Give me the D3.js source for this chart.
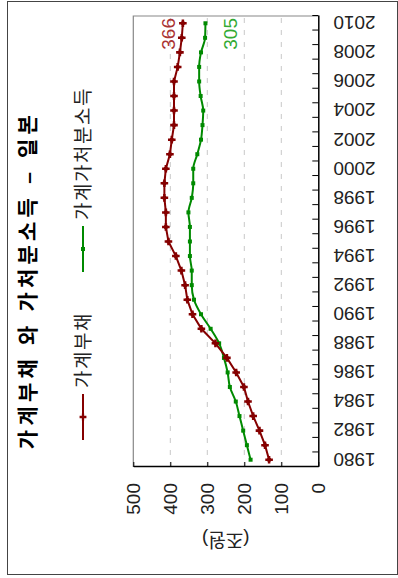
<!DOCTYPE html>
<html>
<head>
<meta charset="utf-8">
<script src="https://cdn.jsdelivr.net/npm/d3@7"></script>
<style>
  body { margin: 0; background: #fff; }
  text { font-family: "Liberation Sans", "Noto Sans CJK KR", sans-serif; }
</style>
</head>
<body>
<script>
// 데이터
const years = d3.range(1980, 2011);
const debt = [133, 144, 159, 176, 190, 201, 222, 247, 278, 316, 340, 354, 360, 370, 385, 405,
              412, 412, 416, 416, 412, 401, 396, 390, 390, 390, 390, 380, 374, 369, 366];
const income = [183, 193, 203, 213, 223, 239, 245, 255, 268, 291, 317, 336, 342, 342, 347, 347,
                347, 351, 342, 338, 338, 327, 317, 313, 311, 318, 322, 322, 317, 306, 305];
const seriesNames = ["가계부채", "가계가처분소득"];
const valueTicks = [0, 100, 200, 300, 400, 500];
const yearLabels = d3.range(1980, 2011, 2);

// 원래 차트 크기 (회전 전)
const W = 578, H = 398;

const svg = d3.select("body").append("svg")
    .attr("width", 398)
    .attr("height", 578);

// 전체를 반시계 방향으로 90도 회전
const g = svg.append("g")
    .attr("transform", `translate(0,${W}) rotate(-90)`);

g.append("rect")
    .attr("x", 3.5).attr("y", 7.5)
    .attr("width", 573).attr("height", 390)
    .attr("fill", "none")
    .attr("stroke", "#444")
    .attr("stroke-width", 1);

const x = d3.scaleLinear().domain([1979.5, 2010.5]).range([111, 562]);
const y = d3.scaleLinear().domain([0, 500]).range([318.3, 133.3]);

// 격자선
g.selectAll(".grid")
    .data([100, 200, 300, 400])
    .enter().append("line")
    .attr("x1", 111).attr("x2", 562)
    .attr("y1", d => y(d)).attr("y2", d => y(d))
    .attr("stroke", "#c8c8c8")
    .attr("stroke-dasharray", "5,7");

// 회색 테두리 (위, 오른쪽)
g.append("path")
    .attr("d", `M111,${y(500)}H562V${y(0)}`)
    .attr("fill", "none")
    .attr("stroke", "#888")
    .attr("stroke-width", 1.2);

// 연도 축
const xAxis = g.append("g")
    .attr("transform", `translate(0,${y(0)})`)
    .call(d3.axisBottom(x)
        .tickValues(d3.range(1979.5, 2011, 1))
        .tickSize(-6).tickSizeOuter(0)
        .tickFormat(""));
xAxis.select(".domain").attr("stroke-width", 1.5);

const xLabels = g.append("g")
    .attr("transform", `translate(0,${y(0)})`)
    .call(d3.axisBottom(x).tickValues(yearLabels).tickSize(0).tickFormat(d3.format("d")));
xLabels.select(".domain").remove();
xLabels.selectAll("text")
    .attr("font-size", 19)
    .attr("fill", "#222")
    .attr("text-anchor", "end")
    .attr("x", -15).attr("y", 0).attr("dy", "0.35em")
    .attr("transform", "rotate(-90)");

// 값 축
const yAxis = g.append("g")
    .attr("transform", "translate(111,0)")
    .call(d3.axisLeft(y).tickValues(valueTicks).tickSize(-5).tickSizeOuter(0).tickPadding(16));
yAxis.select(".domain").attr("stroke-width", 1.5);
yAxis.selectAll("text").attr("font-size", 19).attr("fill", "#222").attr("font-family", null);

g.append("text")
    .attr("transform", `translate(45,${(y(0) + y(500)) / 2}) rotate(-90)`)
    .attr("text-anchor", "middle")
    .attr("font-size", 19)
    .attr("fill", "#222")
    .text("(조원)");

// 선
const lineDebt = d3.line().x((d, i) => x(years[i])).y(d => y(d));
const lineIncome = d3.line().x((d, i) => x(years[i])).y(d => y(d)).curve(d3.curveMonotoneX);

const red = "#850000", green = "#008a00";

g.append("path").datum(income)
    .attr("d", lineIncome)
    .attr("fill", "none").attr("stroke", green).attr("stroke-width", 2);
g.selectAll(".pi").data(income).enter().append("rect")
    .attr("x", (d, i) => x(years[i]) - 2).attr("y", d => y(d) - 2)
    .attr("width", 4).attr("height", 4)
    .attr("fill", green);

g.append("path").datum(debt)
    .attr("d", lineDebt)
    .attr("fill", "none").attr("stroke", red).attr("stroke-width", 2);
const cross = d3.symbol(d3.symbolCross).size(32);
const pd = g.selectAll(".pd").data(debt).enter().append("g")
    .attr("transform", (d, i) => `translate(${x(years[i])},${y(d)})`);
pd.append("path").attr("d", cross).attr("fill", red);
pd.append("circle").attr("r", 2.2).attr("fill", red);

// 끝 값 표시
g.append("text")
    .attr("x", 560).attr("y", y(debt[debt.length - 1]) - 8)
    .attr("text-anchor", "end").attr("font-size", 19)
    .attr("fill", "#a33")
    .text(debt[debt.length - 1]);
g.append("text")
    .attr("x", 560).attr("y", y(income[income.length - 1]) + 32)
    .attr("text-anchor", "end").attr("font-size", 19)
    .attr("fill", "#3a3")
    .text(income[income.length - 1]);

// 제목
g.append("text")
    .attr("x", 298).attr("y", 35)
    .attr("text-anchor", "middle")
    .attr("font-size", 21)
    .attr("font-weight", "bold")
    .attr("letter-spacing", 4.2)
    .text("가계부채 와 가처분소득 – 일본");

// 범례
const legend = [
    { name: seriesNames[0], color: red, x0: 138 },
    { name: seriesNames[1], color: green, x0: 306 }
];
legend.forEach((l, k) => {
    g.append("line")
        .attr("x1", l.x0).attr("x2", l.x0 + 46)
        .attr("y1", 83).attr("y2", 83)
        .attr("stroke", l.color).attr("stroke-width", 2);
    if (k === 0) {
        g.append("path").attr("d", d3.symbol(d3.symbolCross).size(26))
            .attr("transform", `translate(${l.x0 + 23},83)`).attr("fill", l.color);
    } else {
        g.append("rect").attr("x", l.x0 + 21).attr("y", 81)
            .attr("width", 4).attr("height", 4).attr("fill", l.color);
    }
    g.append("text")
        .attr("x", l.x0 + 52).attr("y", 83).attr("dy", "0.35em")
        .attr("font-size", 19)
        .attr("letter-spacing", 1.5)
        .attr("fill", "#222")
        .text(l.name);
});
</script>
</body>
</html>
